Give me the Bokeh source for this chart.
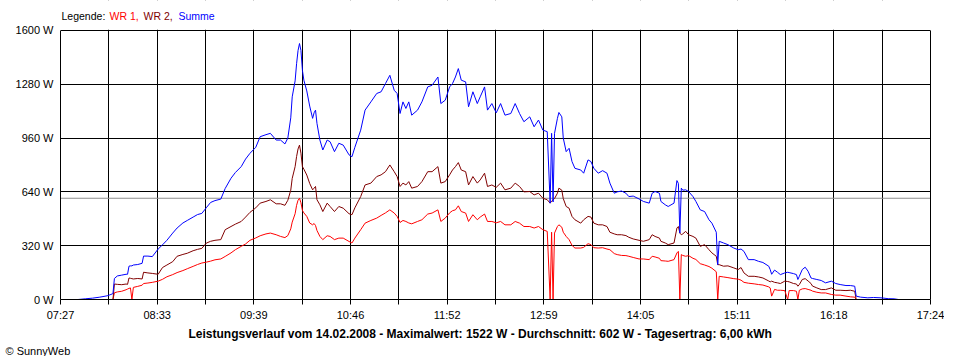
import numpy as np
from bokeh.plotting import figure
from bokeh.models import (FixedTicker, Label, Span, Range1d, Title, LinearAxis,
                          BoxAnnotation)
from bokeh.embed import file_html
from bokeh.resources import INLINE

# ---------------- data ----------------
times = [
    "07:39", "07:44", "07:49", "07:54", "07:59", "08:01", "08:03", "08:04", "08:06", "08:09",
    "08:12", "08:13", "08:14", "08:15", "08:16", "08:17", "08:20", "08:23", "08:24", "08:27",
    "08:30", "08:34", "08:37", "08:40", "08:44", "08:47", "08:51", "08:54", "08:58", "09:01",
    "09:04", "09:07", "09:10", "09:13", "09:17", "09:20", "09:24", "09:27", "09:31", "09:34",
    "09:37", "09:41", "09:44", "09:48", "09:51", "09:55", "09:58", "10:01", "10:03", "10:05",
    "10:06", "10:08", "10:09", "10:10", "10:11", "10:12", "10:13", "10:14", "10:16", "10:18",
    "10:20", "10:21", "10:22", "10:23", "10:25", "10:27", "10:30", "10:32", "10:35", "10:38",
    "10:41", "10:45", "10:47", "10:49", "10:53", "10:56", "11:00", "11:04", "11:07", "11:10",
    "11:13", "11:16", "11:18", "11:20", "11:22", "11:24", "11:26", "11:28", "11:32", "11:35",
    "11:39", "11:42", "11:46", "11:48", "11:51", "11:54", "11:56", "11:58", "12:00", "12:02",
    "12:05", "12:07", "12:10", "12:13", "12:15", "12:18", "12:20", "12:23", "12:26", "12:29",
    "12:32", "12:36", "12:39", "12:42", "12:45", "12:49", "12:52", "12:55", "12:58", "13:01",
    "13:03", "13:04", "13:05", "13:06", "13:08", "13:09", "13:11", "13:12", "13:14", "13:16",
    "13:18", "13:20", "13:24", "13:26", "13:29", "13:31", "13:33", "13:36", "13:39", "13:42",
    "13:44", "13:47", "13:49", "13:52", "13:55", "13:57", "14:00", "14:04", "14:07", "14:11",
    "14:13", "14:15", "14:18", "14:19", "14:22", "14:24", "14:28", "14:30", "14:31", "14:32",
    "14:33", "14:34", "14:36", "14:38", "14:41", "14:43", "14:46", "14:49", "14:52", "14:54",
    "14:57", "14:58", "14:59", "15:02", "15:05", "15:09", "15:12", "15:14", "15:16", "15:19",
    "15:23", "15:26", "15:29", "15:33", "15:34", "15:35", "15:37", "15:39", "15:41", "15:44",
    "15:46", "15:47", "15:50", "15:52", "15:53", "15:54", "15:56", "15:58", "16:00", "16:02",
    "16:03", "16:06", "16:09", "16:12", "16:16", "16:19", "16:22", "16:26", "16:29", "16:32",
    "16:33", "16:36", "16:41", "16:45", "16:50", "16:55", "16:59", "17:02",
]

summe = [
    0, 4, 8, 14, 22, 28, 35, 125, 140, 145,
    150, 150, 198, 200, 200, 205, 208, 215, 258, 258,
    255, 300, 325, 352, 395, 425, 455, 470, 490, 505,
    512, 545, 577, 588, 597, 660, 721, 755, 790, 835,
    869, 905, 968, 980, 988, 948, 948, 925, 960, 1080,
    1205, 1300, 1402, 1480, 1522, 1481, 1363, 1304, 1240, 1150,
    1077, 1110, 1126, 1047, 948, 889, 948, 938, 879, 929,
    918, 860, 849, 905, 1007, 1126, 1175, 1225, 1235, 1284,
    1333, 1244, 1225, 1106, 1175, 1136, 1175, 1096, 1126, 1175,
    1264, 1274, 1323, 1165, 1185, 1264, 1284, 1323, 1373, 1304,
    1294, 1146, 1235, 1165, 1205, 1264, 1126, 1165, 1110, 1165,
    1096, 1106, 1165, 1106, 1057, 1086, 1027, 1067, 1007, 998,
    573, 988, 580, 988, 1077, 1112, 1086, 960, 879, 899,
    820, 780, 770, 751, 830, 820, 780, 751, 766, 751,
    692, 632, 640, 645, 632, 612, 615, 598, 583, 573,
    632, 642, 632, 583, 563, 553, 573, 707, 690, 395,
    662, 650, 652, 642, 612, 583, 533, 523, 474, 454,
    400, 207, 346, 336, 326, 306, 296, 300, 286, 237,
    237, 227, 220, 198, 178, 150, 175, 162, 148, 158,
    162, 160, 154, 148, 119, 138, 178, 192, 168, 128,
    125, 119, 113, 99, 109, 95, 89, 83, 83, 79,
    20, 14, 10, 12, 10, 5, 4, 0,
]

wr2 = [
    None, None, None, None, None, None, 0, 92, 90, 88,
    92, 90, 128, 126, 124, 122, 125, 122, 162, 158,
    155, 150, 190, 205, 225, 257, 268, 275, 290, 298,
    304, 335, 346, 352, 356, 415, 434, 448, 464, 490,
    518, 545, 573, 583, 593, 569, 569, 560, 590, 650,
    720, 790, 850, 895, 918, 870, 790, 775, 740, 690,
    652, 662, 672, 593, 563, 523, 573, 553, 523, 553,
    543, 510, 504, 545, 612, 681, 692, 731, 741, 760,
    800, 760, 731, 672, 692, 681, 701, 662, 672, 701,
    760, 760, 790, 692, 701, 741, 770, 790, 814, 770,
    760, 681, 731, 692, 711, 751, 672, 681, 667, 692,
    652, 662, 692, 672, 640, 642, 622, 632, 602, 593,
    573, 585, 593, 600, 632, 662, 650, 600, 553, 543,
    494, 474, 454, 474, 494, 490, 454, 444, 444, 434,
    400, 390, 385, 385, 380, 370, 360, 352, 346, 356,
    385, 375, 365, 346, 336, 326, 336, 425, 434, 395,
    385, 390, 405, 385, 375, 365, 316, 326, 296, 277,
    257, 207, 207, 198, 200, 188, 178, 190, 158, 138,
    138, 134, 128, 110, 105, 109, 102, 99, 95, 109,
    107, 105, 95, 92, 79, 89, 119, 124, 110, 95,
    80, 69, 59, 59, 69, 55, 55, 53, 55, 49,
    0, None, None, None, None, None, None, None,
]

wr1 = [
    None, None, None, None, None, None, 0, 40, 45, 49,
    58, 62, 66, 69, 0, 72, 78, 85, 95, 98,
    102, 109, 120, 135, 148, 160, 172, 183, 197, 208,
    217, 222, 228, 236, 241, 256, 277, 296, 316, 330,
    352, 366, 379, 390, 395, 385, 375, 368, 380, 420,
    460, 510, 560, 590, 602, 575, 530, 515, 494, 455,
    444, 452, 440, 410, 375, 356, 379, 375, 356, 365,
    365, 345, 336, 365, 415, 454, 470, 484, 500, 515,
    533, 514, 494, 458, 470, 464, 455, 450, 464, 474,
    508, 514, 533, 464, 484, 515, 528, 533, 557, 523,
    514, 464, 504, 474, 490, 508, 464, 464, 456, 464,
    444, 444, 464, 454, 434, 434, 425, 434, 415, 405,
    0, 400, 0, 395, 434, 444, 430, 400, 375, 356,
    322, 306, 306, 310, 332, 326, 308, 306, 308, 300,
    296, 273, 267, 262, 261, 257, 250, 241, 241, 237,
    257, 253, 245, 231, 229, 227, 237, 277, 286, 0,
    267, 262, 257, 261, 245, 238, 213, 205, 196, 186,
    165, 0, 138, 134, 130, 124, 121, 115, 102, 97,
    93, 89, 86, 75, 69, 20, 60, 55, 55, 53,
    0, 53, 53, 49, 0, 55, 63, 65, 60, 55,
    50, 43, 39, 39, 30, 26, 26, 20, 16, 14,
    0, None, None, None, None, None, None, None,
]

y_ticks = [0, 320, 640, 960, 1280, 1600]
x_tick_labels = ["07:27", "", "08:33", "", "09:39", "", "10:46", "", "11:52", "",
                 "12:59", "", "14:05", "", "15:11", "", "16:18", "", "17:24"]
x_start, x_end = "07:27", "17:24"
avg_w = 602
title_text = ("Leistungsverlauf vom 14.02.2008 - Maximalwert: 1522 W - "
              "Durchschnitt: 602 W - Tagesertrag: 6,00 kWh")
legend_parts = [("Legende:", "black"), ("WR 1,", "#ff0000"),
                ("WR 2,", "#800000"), ("Summe", "#0000ff")]

# ---------------- layout constants (pixels) ----------------
FONT = "Liberation Sans"
PLOT_H = 270          # height of the 0..1600 W area
TOP_PAD = 30          # legend strip above the chart, kept inside the frame
legend_x = [1, 49, 83, 118]

# ---------------- build ----------------
def to_sec(s):
    h, m = s.split(":")
    return int(h) * 3600 + int(m) * 60

t = np.array([to_sec(s) for s in times], dtype=float)
x0, x1 = to_sec(x_start), to_sec(x_end)
n_div = len(x_tick_labels) - 1
xt = [x0 + round(k * (x1 - x0) / n_div) for k in range(n_div + 1)]
y_max = y_ticks[-1]
y_top = y_max * (PLOT_H + TOP_PAD) / PLOT_H

p = figure(width=944, height=356, output_backend="svg", toolbar_location=None,
           x_range=Range1d(x0, x1), y_range=Range1d(0, y_top),
           min_border_left=60, min_border_right=14, min_border_top=0,
           min_border_bottom=56, title=None)
p.background_fill_color = "white"
p.border_fill_color = "white"
p.outline_line_color = None

p.xaxis.ticker = FixedTicker(ticks=xt)
p.xaxis.major_label_overrides = {v: lab for v, lab in zip(xt, x_tick_labels)}
p.yaxis.ticker = FixedTicker(ticks=y_ticks)
p.yaxis.major_label_overrides = {v: f"{v} W" for v in y_ticks}
p.yaxis.bounds = (0, y_max)

for ax in (p.xaxis, p.yaxis):
    ax.axis_line_color = "black"
    ax.major_tick_line_color = "black"
    ax.minor_tick_line_color = None
    ax.major_tick_in = 0
    ax.major_label_text_font = FONT
    ax.major_label_text_font_size = "11px"
    ax.major_label_text_color = "black"
p.xaxis.major_tick_out = 5
p.xaxis.major_label_standoff = 4
p.yaxis.major_tick_out = 0
p.yaxis.major_label_standoff = 7

# right border of the chart
right_ax = LinearAxis(bounds=(0, y_max), ticker=FixedTicker(ticks=[]),
                      axis_line_color="black", major_tick_line_color=None,
                      minor_tick_line_color=None, major_tick_out=0, major_tick_in=0,
                      major_label_standoff=0, major_label_text_font_size="0px")
p.add_layout(right_ax, "right")

p.xgrid.ticker = FixedTicker(ticks=xt)
p.ygrid.ticker = FixedTicker(ticks=y_ticks)
p.ygrid.bounds = (0, y_top)
for g in (p.xgrid, p.ygrid):
    g.grid_line_color = "black"
    g.grid_line_alpha = 1.0
    g.grid_line_width = 1

p.add_layout(Span(location=avg_w, dimension="width", line_color="#8f8f8f",
                  line_width=1, level="underlay"))

p.line(t, np.array(wr1, dtype=float), line_color="#ff0000", line_width=1)
p.line(t, np.array(wr2, dtype=float), line_color="#800000", line_width=1)
p.line(t, np.array(summe, dtype=float), line_color="#0000ff", line_width=1)

# blank strip above the chart (hides grid lines there) with the legend text
p.add_layout(BoxAnnotation(bottom=y_max + 4, top=y_top, fill_color="white",
                           fill_alpha=1.0, line_color=None))
for (txt, col), xs in zip(legend_parts, legend_x):
    p.add_layout(Label(x=xs, y=PLOT_H + 13.5, x_units="screen", y_units="screen",
                       text=txt, text_font=FONT, text_font_size="10.5px",
                       text_color=col, text_baseline="middle", text_align="left"))

# bottom texts as titles
p.add_layout(Title(text=title_text, align="left", text_font=FONT,
                   text_font_size="12px", text_font_style="bold",
                   text_color="black", standoff=3, offset=128), "below")
p.add_layout(Title(text="© SunnyWeb", align="left", text_font=FONT,
                   text_font_size="11px", text_font_style="normal",
                   text_color="black", standoff=0, offset=-55), "below")

open("out.html", "w").write(file_html(p, INLINE))
